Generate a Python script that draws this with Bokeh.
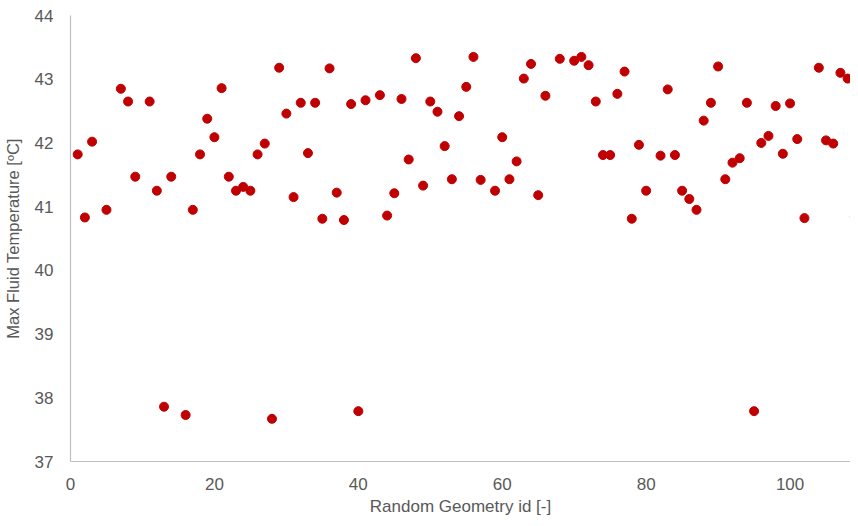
from bokeh.plotting import figure
from bokeh.models import Range1d, FixedTicker
from bokeh.embed import file_html
from bokeh.resources import INLINE

geometry_id = [1, 2, 3, 5, 7, 8, 9, 11, 12, 13, 14, 16, 17, 18, 19, 20, 21, 22, 23, 24,
               25, 26, 27, 28, 29, 30, 31, 32, 33, 34, 35, 36, 37, 38, 39, 40, 41, 43, 44, 45,
               46, 47, 48, 49, 50, 51, 52, 53, 54, 55, 56, 57, 59, 60, 61, 62, 63, 64, 65, 66,
               68, 70, 71, 72, 73, 74, 75, 76, 77, 78, 79, 80, 82, 83, 84, 85, 86, 87, 88, 89,
               90, 91, 92, 93, 94, 95, 96, 97, 98, 99, 100, 101, 102, 104, 105, 106, 107, 108, 109]
max_temp = [41.82, 40.83, 42.02, 40.95, 42.85, 42.65, 41.47, 42.65, 41.25, 37.86,
            41.47, 37.73, 40.95, 41.82, 42.38, 42.09, 42.86, 41.47, 41.25, 41.31,
            41.25, 41.82, 41.99, 37.67, 43.18, 42.46, 41.15, 42.63, 41.84, 42.63,
            40.81, 43.17, 41.22, 40.79, 42.61, 37.79, 42.67, 42.75, 40.86, 41.21,
            42.69, 41.74, 43.33, 41.33, 42.65, 42.49, 41.95, 41.43, 42.42, 42.88,
            43.35, 41.42, 41.25, 42.09, 41.43, 41.71, 43.01, 43.24, 41.18, 42.74,
            43.32, 43.29, 43.35, 43.22, 42.65, 41.81, 41.81, 42.77, 43.12, 40.81,
            41.97, 41.25, 41.80, 42.84, 41.81, 41.25, 41.12, 40.95, 42.35, 42.63,
            43.20, 41.43, 41.69, 41.76, 42.63, 37.79, 42.00, 42.11, 42.58, 41.83,
            42.62, 42.06, 40.82, 43.18, 42.04, 41.99, 43.10, 43.01, 40.84]

x_ticks = [0, 20, 40, 60, 80, 100]
y_ticks = [37, 38, 39, 40, 41, 42, 43, 44]

FONT = "Liberation Sans"
TXT = "#595959"
AX = "#BFBFBF"

p = figure(width=850, height=518, output_backend="svg", toolbar_location=None,
           x_range=Range1d(0, 108.4), y_range=Range1d(37, 44),
           min_border_left=70, min_border_right=0, min_border_top=15, min_border_bottom=57)
p.outline_line_color = None
p.xgrid.visible = False
p.ygrid.visible = False

p.scatter(geometry_id, max_temp, size=9, color="#C00000", line_color="#C00000")

for ax in (p.xaxis[0], p.yaxis[0]):
    ax.axis_line_color = AX
    ax.axis_line_width = 1.2
    ax.major_tick_line_color = None
    ax.minor_tick_line_color = None
    ax.major_label_text_font = FONT
    ax.major_label_text_font_size = "17px"
    ax.major_label_text_color = TXT
    ax.axis_label_text_font = FONT
    ax.axis_label_text_font_size = "17px"
    ax.axis_label_text_font_style = "normal"
    ax.axis_label_text_color = TXT

p.xaxis.ticker = FixedTicker(ticks=x_ticks)
p.yaxis.ticker = FixedTicker(ticks=y_ticks)
p.xaxis.axis_label = "Random Geometry id [-]"
p.yaxis.axis_label = "Max Fluid Temperature [ºC]"
p.xaxis.major_label_standoff = 10
p.xaxis.axis_label_standoff = 4
p.yaxis.major_label_standoff = 11
p.yaxis.axis_label_standoff = 10
p.yaxis.axis_label_text_font_size = "16.5px"

open("out.html", "w").write(file_html(p, INLINE))
